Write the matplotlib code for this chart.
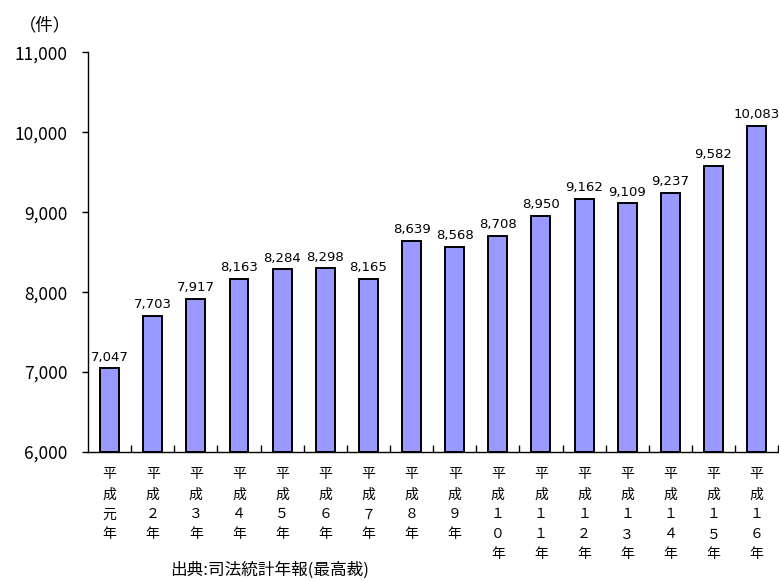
import matplotlib
matplotlib.use("Agg")
import matplotlib.pyplot as plt
from matplotlib.ticker import FuncFormatter, MultipleLocator

plt.rcParams["font.family"] = ["Noto Sans CJK JP", "DejaVu Sans"]

years = ["元", "２", "３", "４", "５", "６", "７", "８", "９",
         "１０", "１１", "１２", "１３", "１４", "１５", "１６"]
cases = [7047, 7703, 7917, 8163, 8284, 8298, 8165, 8639, 8568,
         8708, 8950, 9162, 9109, 9237, 9582, 10083]

# vertical (one char per line) era labels
labels = ["\n".join("平成" + y + "年") for y in years]


def main() -> None:
    fig = plt.figure(figsize=(7.79, 5.81), dpi=100)
    ax = fig.add_axes([0.113, 0.222, 0.886, 0.688])

    x = list(range(len(cases)))
    ax.bar(x, [c - 6000 for c in cases], bottom=6000, width=0.44,
           color="#9999FF", edgecolor="black", linewidth=1.4, zorder=2)

    for xi, c in zip(x, cases):
        ax.text(xi, c + 60, f"{c:,}", ha="center", va="bottom",
                fontsize=9.5, family=["DejaVu Sans"])

    ax.set_xlim(-0.5, len(cases) - 0.5)
    ax.set_ylim(6000, 11000)
    ax.yaxis.set_major_locator(MultipleLocator(1000))
    ax.yaxis.set_major_formatter(FuncFormatter(lambda v, p: f"{int(v):,}"))
    ax.tick_params(axis="y", direction="out", length=4, width=1,
                   labelsize=12.5, pad=11)

    # category separators drawn as small inward ticks on the x axis
    ax.set_xticks([i + 0.5 for i in x], minor=True)
    ax.tick_params(axis="x", which="minor", direction="in", length=5, width=1)
    ax.set_xticks(x)
    ax.set_xticklabels(labels, fontsize=10, linespacing=1.55)
    ax.tick_params(axis="x", which="major", length=0, pad=11)

    for s in ("top", "right"):
        ax.spines[s].set_visible(False)
    ax.spines["left"].set_linewidth(1)
    ax.spines["bottom"].set_linewidth(1)

    fig.text(0.058, 0.957, "（件）", ha="center", va="center", fontsize=12.5)
    fig.text(0.346, 0.018, "出典:司法統計年報(最高裁)", ha="center",
             va="center", fontsize=12)

    fig.savefig("out.png", dpi=100)


if __name__ == "__main__":
    main()
